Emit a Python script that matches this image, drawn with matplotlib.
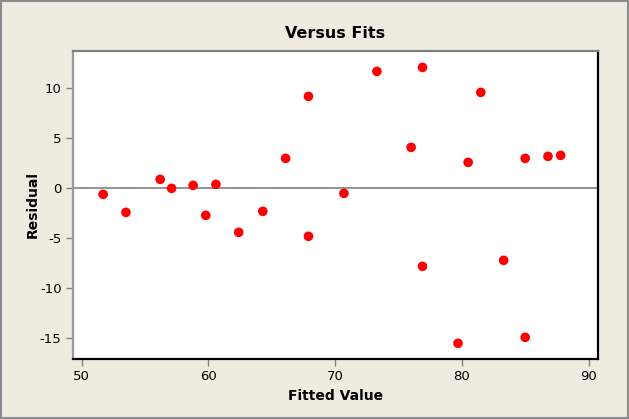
import matplotlib
matplotlib.use('Agg')
import matplotlib.pyplot as plt
from matplotlib.patches import Rectangle

# fitted values and residuals
fits = [51.7, 53.5, 56.2, 57.1, 58.8, 59.8, 60.6, 62.4, 64.3, 66.1,
        67.9, 67.9, 70.7, 73.3, 76.0, 76.9, 76.9, 79.7, 80.5, 81.5,
        83.3, 85.0, 85.0, 86.8, 87.8]
resid = [-0.6, -2.4, 0.9, 0.0, 0.3, -2.7, 0.4, -4.4, -2.3, 3.0,
         9.2, -4.8, -0.5, 11.7, 4.1, 12.1, -7.8, -15.5, 2.6, 9.6,
         -7.2, 3.0, -14.9, 3.2, 3.3]
xticks = [50, 60, 70, 80, 90]
yticks = [-15, -10, -5, 0, 5, 10]

bg = '#EFEBE1'
plt.rcParams['font.family'] = ['DejaVu Sans']
plt.rcParams['axes.unicode_minus'] = False

fig = plt.figure(figsize=(6.29, 4.19), dpi=100, facecolor=bg)
ax = fig.add_axes([0.1156, 0.1425, 0.8354, 0.7365])
ax.set_facecolor('white')

ax.axhline(0, color='#808080', lw=1.2, zorder=1)
ax.scatter(fits, resid, s=48, color='#FF0000', edgecolors='none', zorder=3)

ax.set_xlim(49.3, 90.76)
ax.set_ylim(-17.1, 13.77)
ax.set_xticks(xticks)
ax.set_yticks(yticks)
ax.tick_params(direction='out', length=5, width=1, color='#808080',
               labelsize=9.5, pad=3)

ax.spines['left'].set_color('#9A9A9A')
ax.spines['top'].set_color('#808080')
ax.spines['right'].set_color('black')
ax.spines['bottom'].set_color('black')
for sp in ax.spines.values():
    sp.set_linewidth(1.6)

ax.set_title('Versus Fits', fontsize=11.5, fontweight='bold', pad=9)
ax.set_xlabel('Fitted Value', fontsize=10, fontweight='bold', labelpad=4)
ax.set_ylabel('Residual', fontsize=10, fontweight='bold', labelpad=0)

# outer frame
fig.patches.append(Rectangle((0.001, 0.002), 0.997, 0.996, transform=fig.transFigure,
                             fill=False, edgecolor='#8C8C8C', lw=1.5))

fig.savefig('out.png', dpi=100, facecolor=bg)
